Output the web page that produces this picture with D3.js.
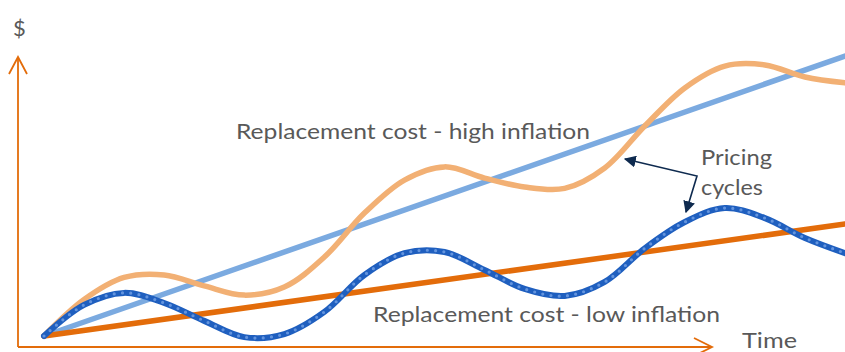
<!DOCTYPE html>
<html>
<head>
<meta charset="utf-8">
<script src="https://cdn.jsdelivr.net/npm/d3@7"></script>
<style>
  html, body { margin: 0; padding: 0; background: #fff; }
  svg { display: block; }
  text { font-family: Lato, "Noto Sans", sans-serif; fill: #595959; }
</style>
</head>
<body>
<svg id="chart" width="845" height="352"></svg>
<script>
// Time runs 0..10, cost in arbitrary $ units 0..10
const lineTime = [0, 10];
const highInflationTrend = [0, 10];
const lowInflationTrend = [0, 4];

// Cycle curves sampled every half time unit
const cycleTime = [0, 0.5, 1, 1.5, 2, 2.5, 3, 3.5, 4, 4.5, 5, 5.5, 6, 6.5, 7, 7.5, 8, 8.5, 9, 9.5, 10];
// Pricing cycle around the high-inflation trend
const highCycleValue = [0, 1.30, 2.09, 2.18, 1.79, 1.46, 1.75, 2.82, 4.39, 5.57, 6.04, 5.64, 5.32, 5.27, 6.00, 7.50, 8.86, 9.64, 9.68, 9.25, 9.04];
// Pricing cycle around the low-inflation trend
const lowCycleValue  = [0, 1.11, 1.54, 1.18, 0.54, -0.04, 0.07, 0.86, 2.18, 2.96, 3.00, 2.36, 1.68, 1.43, 1.93, 3.13, 4.07, 4.57, 4.21, 3.50, 2.96];

const labels = {
  yAxis: "$",
  xAxis: "Time",
  high: "Replacement cost - high inflation",
  low: "Replacement cost - low inflation",
  note: ["Pricing", "cycles"]
};

const svg = d3.select("#chart");
const x = d3.scaleLinear().domain([0, 10]).range([44, 845]);
const y = d3.scaleLinear().domain([0, 10]).range([336, 56]);

const axisColor = "#E36C0A";
const axisX = 18, axisY = 347, axisTop = 57, axisRight = 712;

// Axes with open arrowheads
const axes = svg.append("g").attr("fill", "none").attr("stroke", axisColor)
  .attr("stroke-width", 1.8).attr("stroke-linejoin", "miter");
axes.append("path").attr("d", `M${axisX},${axisY} L${axisX},${axisTop}`);
axes.append("path").attr("d", `M${axisX},${axisY} L${axisRight},${axisY}`);
axes.append("path").attr("d", `M${axisX - 9},${axisTop + 17} L${axisX},${axisTop} L${axisX + 9},${axisTop + 17}`);
axes.append("path").attr("d", `M${axisRight - 18},${axisY - 9} L${axisRight},${axisY} L${axisRight - 18},${axisY + 9}`);

const zip = (ts, vs) => ts.map((t, i) => [t, vs[i]]);
const straight = d3.line().x(d => x(d[0])).y(d => y(d[1]));
const smooth = d3.line().x(d => x(d[0])).y(d => y(d[1])).curve(d3.curveCatmullRom.alpha(0.5));

const plot = svg.append("g").attr("fill", "none").attr("stroke-linecap", "round");

// High inflation trend
plot.append("path").attr("d", straight(zip(lineTime, highInflationTrend)))
  .attr("stroke", "#7BAAE0").attr("stroke-width", 5.5);
// High inflation pricing cycle
plot.append("path").attr("d", smooth(zip(cycleTime, highCycleValue)))
  .attr("stroke", "#F2B074").attr("stroke-width", 5.5);
// Low inflation trend
plot.append("path").attr("d", straight(zip(lineTime, lowInflationTrend)))
  .attr("stroke", "#E36C0A").attr("stroke-width", 5.5);
// Low inflation pricing cycle, with dotted highlight
const lowPath = smooth(zip(cycleTime, lowCycleValue));
plot.append("path").attr("d", lowPath)
  .attr("stroke", "#1F5FBF").attr("stroke-width", 6);
plot.append("path").attr("d", lowPath)
  .attr("stroke", "#6394DE").attr("stroke-width", 3.2)
  .attr("stroke-dasharray", "0 8.3");

// Labels
svg.append("text").attr("x", 13).attr("y", 36).attr("font-size", 22).text(labels.yAxis);
svg.append("text").attr("x", 742).attr("y", 348).attr("font-size", 21)
  .attr("textLength", 55).attr("lengthAdjust", "spacingAndGlyphs").text(labels.xAxis);
svg.append("text").attr("x", 236).attr("y", 139).attr("font-size", 21)
  .attr("textLength", 354).attr("lengthAdjust", "spacingAndGlyphs").text(labels.high);
svg.append("text").attr("x", 373).attr("y", 322).attr("font-size", 21)
  .attr("textLength", 347).attr("lengthAdjust", "spacingAndGlyphs").text(labels.low);
svg.append("text").attr("x", 701).attr("y", 165).attr("font-size", 21)
  .attr("textLength", 71).attr("lengthAdjust", "spacingAndGlyphs").text(labels.note[0]);
svg.append("text").attr("x", 701).attr("y", 195).attr("font-size", 21)
  .attr("textLength", 62).attr("lengthAdjust", "spacingAndGlyphs").text(labels.note[1]);

// Callout arrows pointing at both cycles
const navy = "#0E2A4F";
const defs = svg.append("defs");
defs.append("marker").attr("id", "tri")
  .attr("viewBox", "0 0 10 10").attr("refX", 9).attr("refY", 5)
  .attr("markerWidth", 12).attr("markerHeight", 12)
  .attr("markerUnits", "userSpaceOnUse").attr("orient", "auto-start-reverse")
  .append("path").attr("d", "M0,0 L10,5 L0,10 Z").attr("fill", navy);
svg.append("path")
  .attr("d", "M625,159 L697,176 L686,212")
  .attr("fill", "none").attr("stroke", navy).attr("stroke-width", 1.6)
  .attr("marker-start", "url(#tri)").attr("marker-end", "url(#tri)");
</script>
</body>
</html>
